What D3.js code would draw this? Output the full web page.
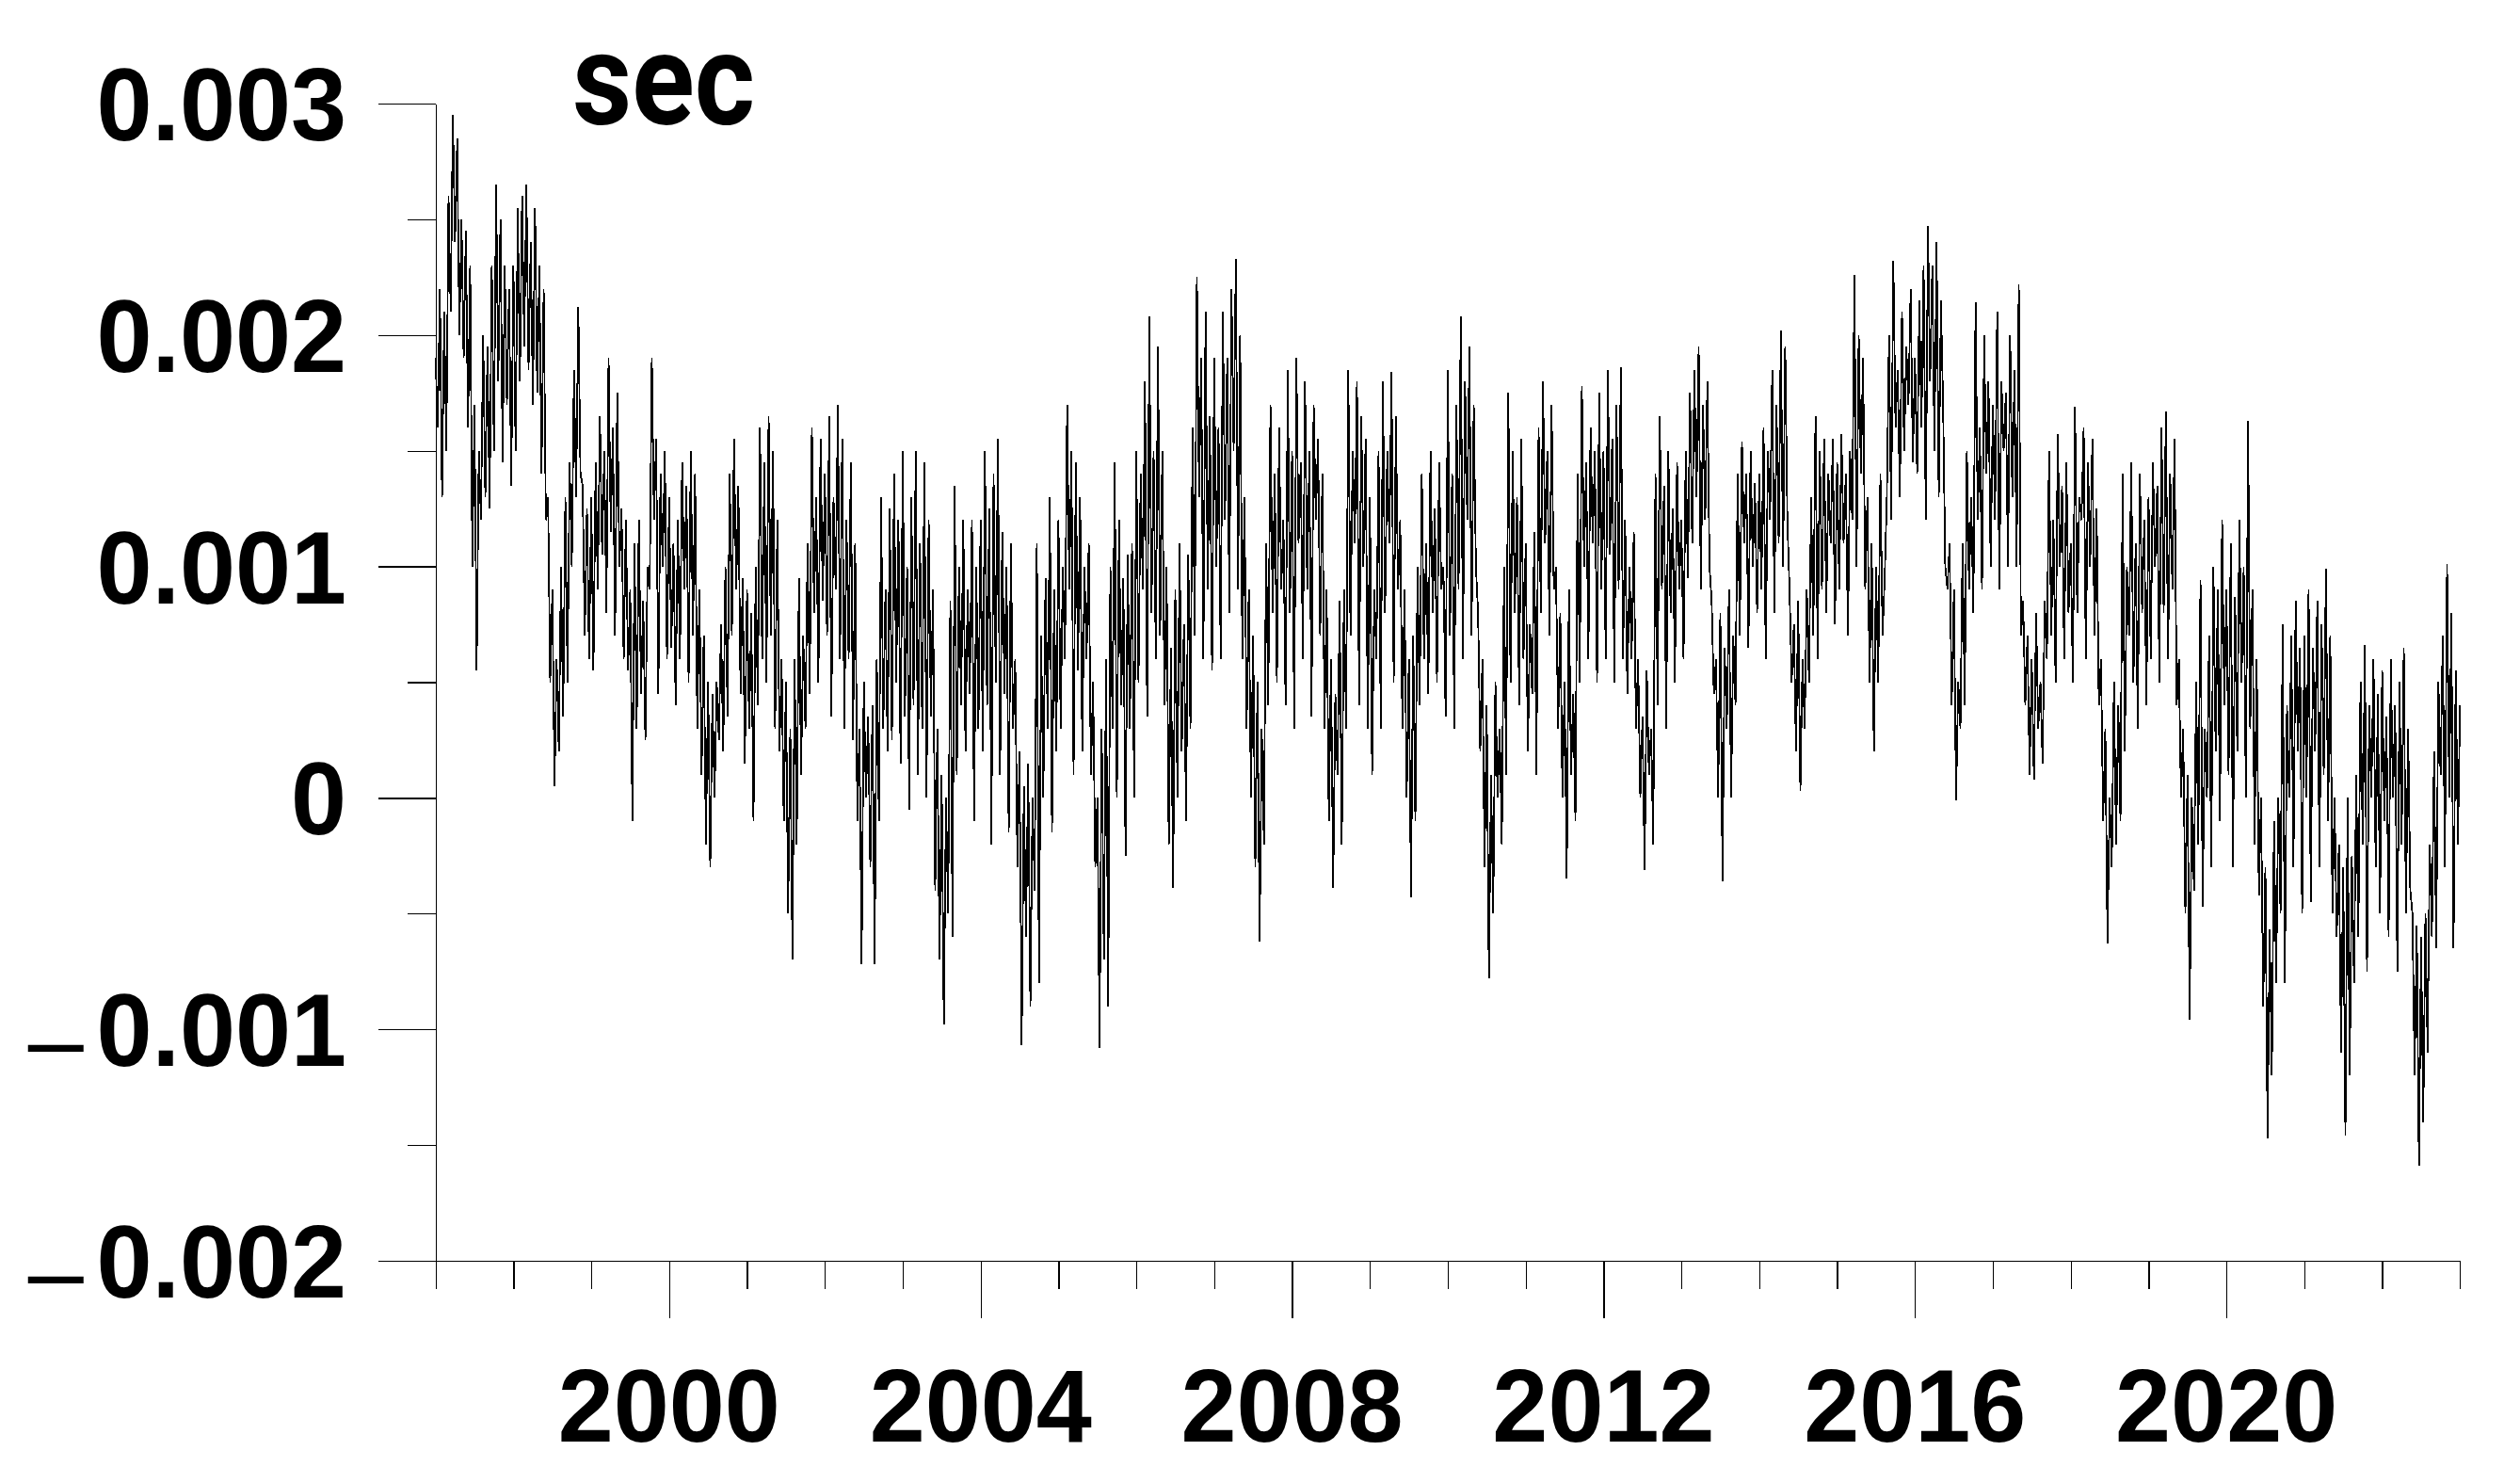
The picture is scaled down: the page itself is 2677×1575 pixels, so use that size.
<!DOCTYPE html>
<html>
<head>
<meta charset="utf-8">
<script src="https://cdnjs.cloudflare.com/ajax/libs/d3/7.8.5/d3.min.js"></script>
<style>
  html, body { margin: 0; padding: 0; background: #fff; }
  svg { display: block; }
</style>
</head>
<body>
<svg id="chart"></svg>
<script>
// series sampled 36 times a year from 1997.0, values in units of 0.001 s
var startYear = 1997,
    endYear = 2023,
    perYear = 36;

var sec = [
  1.9,1.6,2.2,1.3,2.1,1.5,2.6,2.1,2.95,2.4,2.85,2.0,2.5,1.9,2.45,1.6,2.3,1.0,1.7,0.55,1.5,1.2,2.0,1.3,1.95,1.25,2.3,1.5,2.65,1.8,2.5,1.45,2.3,1.7,2.2,1.35,
  2.3,1.5,2.55,1.8,2.6,1.95,2.65,1.85,2.4,1.7,2.55,1.75,2.3,1.4,2.2,1.2,1.3,0.5,0.9,0.05,0.6,0.2,1.0,0.35,1.3,0.5,1.45,1.0,1.85,1.3,2.12,1.4,1.35,0.7,1.25,0.6,
  1.3,0.55,1.45,0.9,1.65,1.05,1.5,0.8,1.9,1.15,1.6,0.7,1.75,1.0,1.25,0.6,1.2,0.55,0.9,-0.1,1.1,0.3,1.2,0.45,0.85,0.25,1.0,0.9,1.9,1.2,1.55,0.45,1.4,1.0,1.5,0.6,
  1.3,0.65,1.1,0.4,1.2,0.6,1.45,0.9,1.35,0.5,1.5,0.7,1.4,0.3,0.9,0.1,0.7,-0.2,0.5,-0.3,0.45,0.0,0.5,0.25,0.75,0.2,1.0,0.35,1.4,0.7,1.55,0.9,1.35,0.45,0.95,0.15,
  0.9,0.3,0.8,-0.1,1.0,0.4,1.6,0.6,1.45,0.5,1.65,0.7,1.5,0.3,1.2,0.2,0.6,-0.1,0.5,-0.5,0.3,-0.7,0.6,-0.2,0.95,0.1,0.7,0.3,1.1,0.45,1.6,0.8,1.3,0.5,1.55,0.85,
  1.4,0.7,1.65,0.35,1.3,0.9,1.7,0.6,1.55,0.3,1.2,0.6,1.45,0.25,1.1,-0.1,0.3,-0.72,0.5,0.0,0.35,-0.3,0.4,-0.72,0.6,-0.1,1.3,0.3,0.9,0.2,1.25,0.25,1.4,0.5,1.2,0.15,
  1.5,0.35,1.0,-0.05,1.3,0.4,1.5,0.1,1.1,0.3,1.45,0.0,1.2,0.35,0.9,-0.4,0.3,-0.7,0.1,-0.98,0.0,-0.5,0.85,-0.6,1.35,0.1,1.0,0.4,1.2,0.2,0.9,0.45,1.2,-0.1,1.0,0.3,
  1.2,0.2,1.5,0.4,1.25,-0.2,1.4,0.5,1.55,0.1,1.15,0.45,1.0,-0.15,1.1,0.3,0.6,-0.3,0.2,-1.07,0.05,-0.6,0.15,-0.9,0.0,-0.4,1.1,-0.8,0.7,0.0,0.95,0.3,1.3,-0.15,0.9,0.2,
  1.2,0.3,1.0,0.6,1.7,0.9,1.5,0.1,1.45,0.55,1.3,0.2,1.0,0.6,1.1,0.1,0.5,-0.3,0.0,-1.08,0.3,-0.7,0.6,-0.9,1.0,0.3,1.45,0.0,1.2,0.4,0.95,-0.25,1.05,0.3,1.1,0.0,
  1.5,0.5,1.4,0.9,1.8,0.35,2.08,0.8,1.5,0.6,1.95,0.7,1.5,0.4,1.0,-0.2,0.65,-0.39,0.9,0.0,1.1,0.2,0.75,-0.1,1.05,0.3,1.6,0.7,2.25,1.3,1.9,0.6,2.1,0.9,1.65,0.55,
  1.9,1.0,1.6,0.6,2.1,1.2,1.9,0.8,2.2,1.5,2.33,0.9,2.0,0.6,1.3,0.3,0.9,0.0,0.7,-0.3,0.5,-0.62,0.3,-0.2,1.1,0.4,1.7,0.8,1.4,0.5,1.6,0.9,1.2,0.4,1.85,0.8,
  1.5,0.3,1.9,1.1,1.45,0.6,1.8,0.9,1.5,0.35,1.7,1.2,1.55,0.7,1.4,0.3,0.9,-0.1,0.6,-0.39,0.45,0.1,0.85,-0.2,0.9,0.3,1.85,0.7,1.5,1.1,1.8,0.4,1.65,1.0,1.55,0.3,
  1.3,0.1,0.9,0.6,1.5,0.3,1.8,0.8,1.5,1.1,1.84,0.5,1.65,0.9,1.2,0.3,0.9,0.0,0.6,-0.43,0.7,-0.1,1.0,0.4,1.4,0.6,1.1,0.45,1.5,0.8,1.25,0.5,1.45,0.9,1.0,0.35,
  1.85,0.7,1.4,0.3,1.7,0.9,2.08,0.6,1.8,1.2,1.95,0.7,1.7,1.0,0.8,0.2,0.6,-0.3,0.4,-0.78,0.1,-0.5,0.5,0.0,0.3,-0.2,1.0,0.1,1.75,0.5,1.5,0.8,1.3,0.4,1.55,0.6,
  1.1,0.2,0.75,0.45,1.15,0.1,1.6,0.8,1.8,1.1,1.5,0.7,1.7,0.9,1.0,0.3,0.8,0.0,0.5,-0.35,0.9,0.1,0.45,-0.1,1.4,0.5,1.78,1.0,1.45,0.6,1.6,1.1,1.5,0.5,1.75,0.9,
  1.5,0.6,1.85,1.05,1.55,0.5,1.7,0.9,1.86,0.6,1.2,0.45,1.0,0.6,1.15,0.3,0.6,0.0,0.35,-0.31,0.55,0.1,0.3,-0.2,1.4,0.4,1.65,0.9,1.35,0.3,1.5,0.8,1.25,0.5,1.45,0.9,
  1.2,0.6,1.5,0.95,1.75,1.1,1.85,1.3,1.95,0.9,1.7,1.2,1.8,1.0,0.85,0.45,0.6,0.0,0.8,-0.36,0.65,0.3,0.9,0.0,0.7,0.4,1.4,0.7,1.54,1.1,1.4,0.65,1.5,1.0,1.36,0.8,
  1.4,0.9,1.6,0.6,1.5,1.2,1.85,0.8,1.7,1.1,2.02,1.0,1.95,1.2,0.9,0.5,0.75,0.2,0.85,0.03,0.6,0.3,0.9,0.5,1.3,0.7,1.65,0.6,1.5,0.9,1.55,0.8,1.4,1.1,1.55,0.75,
  1.45,0.9,1.57,1.1,1.4,0.7,1.5,1.2,2.26,1.0,2.0,1.4,1.9,0.9,1.3,0.5,1.1,0.2,1.0,0.5,1.4,0.7,0.95,1.3,2.0,1.2,2.32,1.6,1.85,1.3,2.1,1.5,1.95,1.7,2.2,1.45,
  1.9,1.4,2.15,1.6,2.3,1.2,2.47,1.8,2.3,1.5,2.4,1.3,2.15,1.7,1.0,0.9,1.1,0.4,0.9,-0.01,0.5,0.3,1.1,0.4,1.5,0.9,1.3,0.8,2.14,1.2,1.6,0.9,2.0,1.4,1.8,1.0,
  1.7,1.2,2.1,0.9,1.8,1.5,1.75,1.0,2.0,1.3,1.85,1.0,2.22,0.7,0.85,0.4,0.7,0.1,0.6,0.08,0.8,0.3,0.5,0.15,0.85,0.6,1.5,0.7,1.2,0.5,1.57,1.0,1.35,0.6,1.45,0.8,
  1.1,0.5,1.69,0.8,1.3,1.2,1.6,0.6,1.45,1.0,1.55,0.7,1.25,0.4,0.6,-0.1,0.3,-0.63,0.0,-0.3,0.5,-0.2,0.4,-0.1,1.4,0.2,1.0,0.7,1.45,0.5,1.1,0.3,1.4,0.8,1.2,0.4,
  1.3,0.6,1.45,1.0,1.35,0.5,1.6,0.8,1.67,0.6,1.4,0.9,1.55,0.4,0.6,0.0,0.3,-0.5,0.1,-0.96,0.0,-0.4,0.5,-0.2,0.94,-0.47,0.3,0.0,0.7,-0.3,1.0,0.2,0.9,-0.1,1.2,0.4,
  0.9,0.1,1.1,-0.3,0.87,0.2,1.2,0.5,1.0,0.0,1.63,0.3,0.9,-0.2,0.6,-0.42,0.0,-0.9,-0.3,-1.47,-0.57,-1.2,-0.1,-0.8,0.0,-0.5,0.75,-0.8,0.4,0.0,0.7,-0.3,0.85,0.2,0.65,-0.5,
  0.7,0.0,0.9,-0.45,0.65,0.2,0.85,-0.3,0.75,0.1,0.99,-0.1,0.7,-0.5,0.0,-0.6,-0.2,-1.1,-0.3,-1.46,0.0,-1.2,-0.25,-0.8,0.1,-0.6,0.5,-0.2,0.66,-0.75,0.4,0.0,0.6,-0.3,0.45,-0.5,
  0.55,-0.1,0.35,-0.6,0.6,0.0,0.4,-0.75,0.5,-0.2,0.65,-0.5,0.3,-0.4,-0.5,-1.2,-0.55,-1.59,-0.6,-1.4,-0.5,-1.1,-0.2,-0.6,0.2,-0.65,0.5,0.1,0.7,-0.3,1.01,0.0,0.8,-0.65,0.55,-0.2,
  0.4
];

var yTicks = [3, 2, 1, 0, -1, -2];
var yTickLabels = ["0.003", "0.002", "0.001", "0", "\u20130.001", "\u20130.002"];
var yMinor = [2.5, 1.5, 0.5, -0.5, -1.5];
var xTicks = [2000, 2004, 2008, 2012, 2016, 2020];
var xTickLabels = ["2000", "2004", "2008", "2012", "2016", "2020"];
var xMinor = d3.range(startYear, endYear + 1);
var unitLabel = "sec";

var width = 2677,
    height = 1575;

var svg = d3.select("#chart")
    .attr("width", width)
    .attr("height", height);

svg.append("rect")
    .attr("width", width)
    .attr("height", height)
    .attr("fill", "#fff");

var x = d3.scaleLinear()
    .domain([startYear, endYear])
    .range([462.7, 2613.3]);

var y = d3.scaleLinear()
    .domain([-2, 3])
    .range([1339, 110]);

var data = sec.map(function(v, i) { return { t: startYear + i / perYear, v: v }; });

// axes: lines and ticks only, labels drawn below
function plain(g) {
  g.selectAll("text").remove();
  g.selectAll("line, path").attr("stroke", "#000").attr("stroke-width", 1.2)
    .attr("shape-rendering", "crispEdges");
}

svg.append("g")
    .attr("transform", "translate(0,1339)")
    .call(d3.axisBottom(x).tickValues(xMinor).tickSize(30).tickSizeOuter(0))
    .call(plain);

svg.append("g")
    .attr("transform", "translate(0,1339)")
    .call(d3.axisBottom(x).tickValues(xTicks).tickSize(61).tickSizeOuter(0))
    .call(plain)
    .select(".domain").remove();

svg.append("g")
    .attr("transform", "translate(462.7,0)")
    .call(d3.axisLeft(y).tickValues(yMinor).tickSize(30).tickSizeOuter(0))
    .call(plain);

svg.append("g")
    .attr("transform", "translate(462.7,0)")
    .call(d3.axisLeft(y).tickValues(yTicks).tickSize(61).tickSizeOuter(0))
    .call(plain)
    .select(".domain").remove();

// the series
var line = d3.line()
    .x(function(d) { return x(d.t); })
    .y(function(d) { return y(d.v); });

svg.append("path")
    .datum(data)
    .attr("d", line)
    .attr("fill", "none")
    .attr("stroke", "#000")
    .attr("stroke-width", 1.8)
    .attr("stroke-linejoin", "miter")
    .attr("shape-rendering", "crispEdges");

// tick labels, a little narrower than the plain face
var font = "'Liberation Sans', Arial, sans-serif";
var squeeze = 0.965;

var yl = svg.append("g")
    .attr("transform", "translate(368,0) scale(" + squeeze + ",1)")
    .selectAll("text")
    .data(yTicks)
    .enter().append("text")
    .attr("x", 0)
    .attr("y", function(d) { return y(d) + 39; })
    .attr("text-anchor", "end")
    .style("font-family", font)
    .style("font-weight", "bold")
    .style("font-size", "110px");

yl.each(function(d, i) {
  var lab = yTickLabels[i];
  var t = d3.select(this);
  if (lab.charAt(0) === "\u2013") {
    t.append("tspan").attr("dy", 9).style("font-weight", "normal").text("\u2013");
    t.append("tspan").attr("dx", 14).attr("dy", -9).text(lab.slice(1));
  } else {
    t.text(lab);
  }
});

svg.append("g")
    .selectAll("text")
    .data(xTicks)
    .enter().append("text")
    .attr("transform", function(d) { return "translate(" + x(d) + ",1531) scale(" + squeeze + ",1)"; })
    .attr("text-anchor", "middle")
    .style("font-family", font)
    .style("font-weight", "bold")
    .style("font-size", "110px")
    .text(function(d, i) { return xTickLabels[i]; });

svg.append("text")
    .attr("x", 608)
    .attr("y", 132)
    .attr("textLength", 194)
    .attr("lengthAdjust", "spacingAndGlyphs")
    .style("font-family", "Roboto, Lato, sans-serif")
    .style("font-weight", "bold")
    .style("font-size", "138px")
    .text(unitLabel);
</script>
</body>
</html>
